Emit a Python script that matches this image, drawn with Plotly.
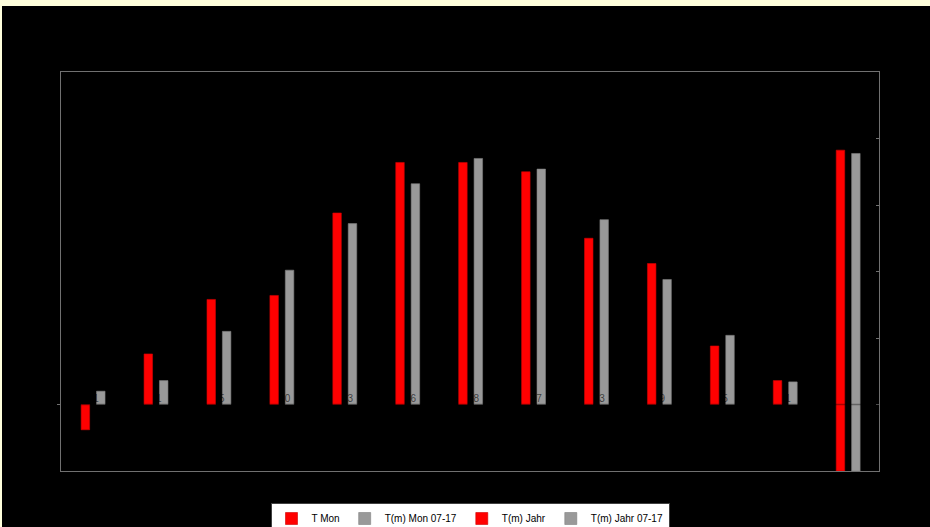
import plotly.graph_objects as go

# Monthly temperatures (°C), current year vs. 2007-2017 mean, plus annual means
months = ["Jan", "Feb", "Mär", "Apr", "Mai", "Jun", "Jul", "Aug", "Sep", "Okt", "Nov", "Dez"]
t_mon = [-1.9, 3.8, 7.9, 8.2, 14.4, 18.2, 18.2, 17.5, 12.5, 10.6, 4.4, 1.8]
t_mon_0717 = [1.0, 1.8, 5.5, 10.1, 13.6, 16.6, 18.5, 17.7, 13.9, 9.4, 5.2, 1.7]
t_jahr = [9.65]
t_jahr_0717 = [9.55]

RED = "#ff0000"
GREY = "#999999"
FRAME = "#707070"

pos_months = list(range(len(months)))
pos_year = [len(months)]

fig = go.Figure()

fig.add_trace(go.Bar(
    x=pos_months, y=t_mon, name="T Mon",
    marker=dict(color=RED, line=dict(color="#d00000", width=0.6)),
    width=0.135, offset=-0.18,
))
fig.add_trace(go.Bar(
    x=pos_months, y=t_mon_0717, name="T(m) Mon 07-17",
    marker=dict(color=GREY, line=dict(color="#808080", width=0.6)),
    width=0.135, offset=0.065,
))
fig.add_trace(go.Bar(
    x=pos_year, y=t_jahr, name="T(m) Jahr", yaxis="y2",
    marker=dict(color=RED, line=dict(color="#d00000", width=0.6)),
    width=0.135, offset=-0.18,
))
fig.add_trace(go.Bar(
    x=pos_year, y=t_jahr_0717, name="T(m) Jahr 07-17", yaxis="y2",
    marker=dict(color=GREY, line=dict(color="#808080", width=0.6)),
    width=0.135, offset=0.065,
))

# dark value labels at the base of the 07-17 bars
fig.add_trace(go.Scatter(
    x=[p + 0.055 for p in pos_months], y=[0] * len(months),
    text=[str(int(v)) for v in t_mon_0717],
    mode="text", textposition="top center",
    textfont=dict(family="Liberation Sans, Arial, sans-serif", size=10,
                  color="rgba(0,0,0,0.62)"),
    showlegend=False, hoverinfo="skip",
))

fig.update_layout(
    width=930, height=527,
    margin=dict(l=61, r=51, t=72, b=56, autoexpand=False),
    paper_bgcolor="#000000", plot_bgcolor="#000000",
    barmode="overlay",
    font=dict(family="Liberation Sans, Arial, sans-serif", size=10, color="#000000"),
    xaxis=dict(
        range=[-0.5, 12.5], showgrid=False, zeroline=False,
        showticklabels=False, ticks="",
        showline=True, mirror=True, linecolor=FRAME, linewidth=1,
    ),
    yaxis=dict(
        range=[-5, 25], showgrid=False, zeroline=False,
        showticklabels=False, tickvals=[0], ticks="outside", ticklen=3,
        tickcolor=FRAME,
        showline=True, mirror=True, linecolor=FRAME, linewidth=1,
    ),
    yaxis2=dict(
        range=[0, 12], dtick=2, overlaying="y", side="right",
        showgrid=False, zeroline=False, showticklabels=False,
        ticks="inside", ticklen=3, tickcolor=FRAME, showline=False,
    ),
    legend=dict(
        orientation="h", x=0.5, xanchor="center",
        yref="container", y=24 / 527, yanchor="top",
        bgcolor="#ffffff", bordercolor="#404040", borderwidth=1,
        font=dict(size=10, color="#000000"),
        itemwidth=30, tracegroupgap=0,
    ),
    shapes=[
        # pale yellow page edge along the top and left
        dict(type="rect", xref="paper", yref="paper",
             x0=-0.1, x1=1.1, y0=1 + 66 / 399, y1=1.25,
             fillcolor="#ffffdc", line=dict(width=0), layer="below"),
        dict(type="rect", xref="paper", yref="paper",
             x0=-0.1, x1=-59 / 818, y0=-0.3, y1=1.25,
             fillcolor="#ffffdc", line=dict(width=0), layer="below"),
        # category axis line at 0 °C, drawn over the bars
        dict(type="line", xref="paper", yref="y", x0=0, x1=1, y0=0, y1=0,
             line=dict(color="rgba(0,0,0,0.35)", width=1.5), layer="above"),
    ],
)

fig.write_html("out.html")
